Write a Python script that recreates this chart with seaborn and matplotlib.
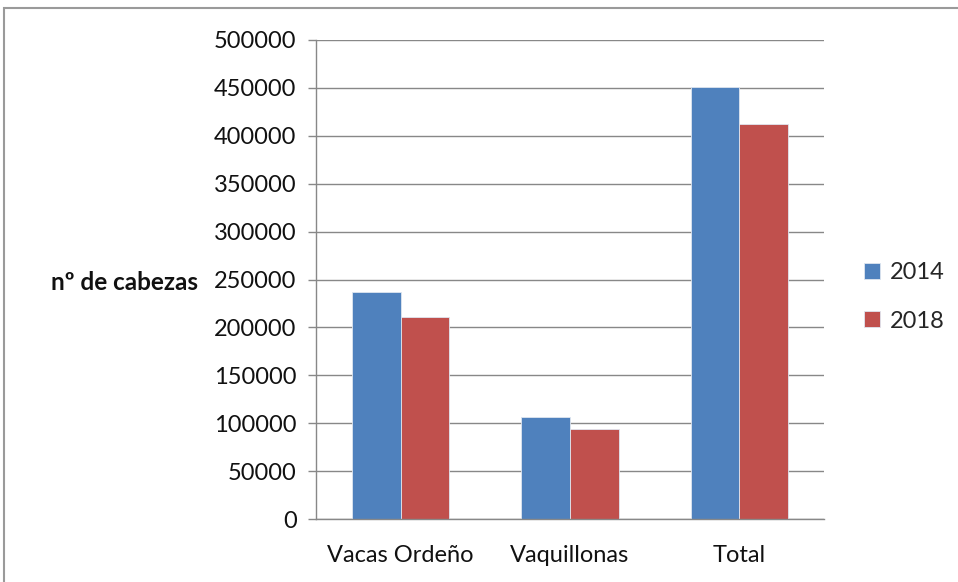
import matplotlib
matplotlib.use("Agg")
import matplotlib.pyplot as plt
import seaborn as sns
import pandas as pd
from matplotlib.patches import Rectangle

# Cabezas de ganado lechero por categoría y año
categories = ["Vacas Ordeño", "Vaquillonas", "Total"]
years = ["2014", "2018"]
values_2014 = [236500, 106000, 450500]
values_2018 = [210500, 94300, 412800]
y_ticks = [0, 50000, 100000, 150000, 200000, 250000, 300000, 350000, 400000, 450000, 500000]

df = pd.DataFrame({
    "categoria": categories * 2,
    "año": [years[0]] * len(categories) + [years[1]] * len(categories),
    "cabezas": values_2014 + values_2018,
})

sns.set_theme(style="white")
plt.rcParams["font.family"] = ["Lato", "DejaVu Sans"]

fig = plt.figure(figsize=(9.58, 5.82), dpi=100)
W, H = 958, 582
ax = fig.add_axes([316 / W, 1 - 519 / H, (824 - 316) / W, (519 - 40) / H])

sns.barplot(
    data=df, x="categoria", y="cabezas", hue="año",
    palette=["#4F81BD", "#C0504D"], saturation=1, width=0.575, gap=0,
    order=categories, hue_order=years, ax=ax, legend=True,
    linewidth=0.6, edgecolor="#dfe6f0",
)

ax.set_xlim(-0.5, len(categories) - 0.5)
ax.set_ylim(0, 500000)
ax.set_yticks(y_ticks)
ax.set_yticklabels([str(v) for v in y_ticks], fontsize=17, color="#111111")
ax.set_xticks(range(len(categories)))
ax.set_xticklabels(categories, fontsize=17, color="#111111")
ax.set_xticks([i - 0.5 for i in range(len(categories) + 1)], minor=True)
ax.tick_params(axis="x", which="major", length=0, pad=19)
ax.tick_params(axis="x", which="minor", length=6, width=1, color="#888888", direction="out")
ax.tick_params(axis="y", which="major", length=6, width=1, color="#888888", direction="out", left=True, pad=8)
ax.set_xlabel("")
ax.set_ylabel("")

ax.yaxis.grid(True, color="#888888", linewidth=1)
ax.set_axisbelow(True)
for side in ("top", "right"):
    ax.spines[side].set_visible(False)
for side in ("left", "bottom"):
    ax.spines[side].set_color("#888888")
    ax.spines[side].set_linewidth(1)

fig.text(198 / W, 1 - 283 / H, "nº de cabezas", ha="right", va="center",
         fontsize=17.5, fontweight="bold", color="#111111")

handles, labels = ax.get_legend_handles_labels()
ax.legend(handles, labels, loc="center left", bbox_to_anchor=(843 / W, 1 - 297 / H),
          bbox_transform=fig.transFigure, frameon=False, fontsize=17,
          handlelength=0.65, handleheight=0.65, handletextpad=0.45, labelspacing=1.15)

# marco exterior del gráfico
fig.patches.append(Rectangle((4 / W, -0.05), 1.1, 1 - 8 / H + 0.05, transform=fig.transFigure,
                             fill=False, edgecolor="#9a9a9a", linewidth=1.5))

fig.savefig("out.png", dpi=100)
